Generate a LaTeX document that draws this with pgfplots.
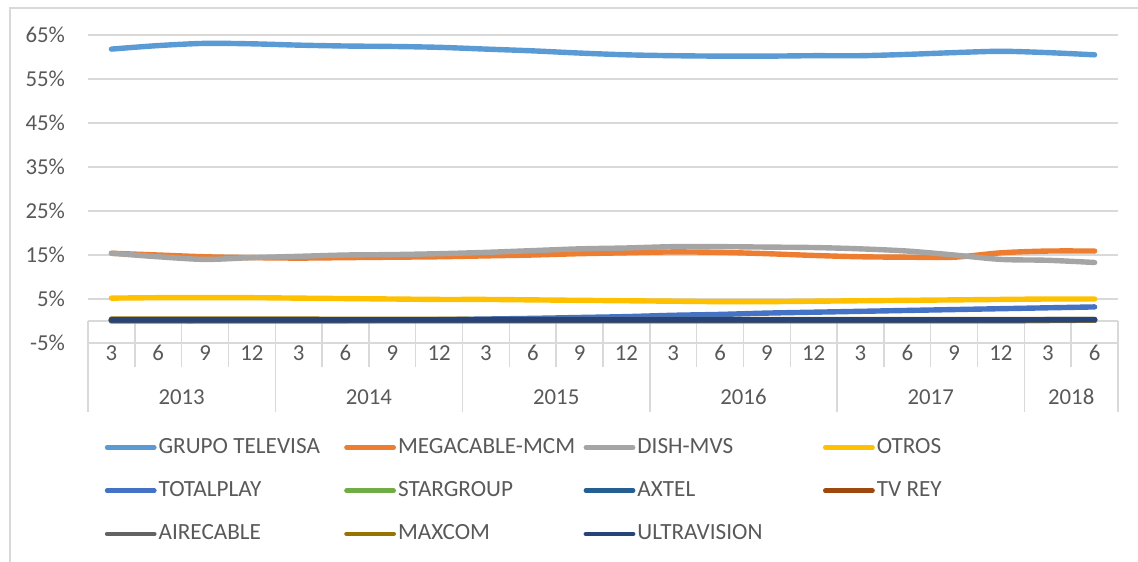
\documentclass[border=0pt]{standalone}
\usepackage{pgfplots}
\usepackage{pgfplotstable}
\pgfplotsset{compat=1.18}
\usepackage{fontspec}
\setmainfont{Carlito}
\definecolor{textc}{HTML}{595959}
\definecolor{gridc}{HTML}{D9D9D9}
\definecolor{borderc}{HTML}{D9D9D9}
\definecolor{cTV}{HTML}{5B9BD5}
\definecolor{cMEGA}{HTML}{ED7D31}
\definecolor{cDISH}{HTML}{A5A5A5}
\definecolor{cOTROS}{HTML}{FFC000}
\definecolor{cTOTAL}{HTML}{4472C4}
\definecolor{cSTAR}{HTML}{70AD47}
\definecolor{cAXTEL}{HTML}{255E91}
\definecolor{cTVREY}{HTML}{9E480E}
\definecolor{cAIRE}{HTML}{636363}
\definecolor{cMAXCOM}{HTML}{997300}
\definecolor{cULTRA}{HTML}{264478}
\tikzset{lab/.style={font=\fontsize{11.4}{13}\selectfont, text=textc},
         sep/.style={color=gridc, line width=0.75pt}}

\pgfplotstableread{
x  tv   mega dish otros total star axtel tvrey aire maxcom ultra
0  61.8 15.4 15.4 5.2 0.05 0.0 0.3 0.2 0.1 0.45 0.25
1  62.6 15.0 14.6 5.3 0.05 0.0 0.3 0.2 0.1 0.45 0.25
2  63.1 14.6 14.0 5.3 0.05 0.0 0.3 0.2 0.1 0.45 0.25
3  63.0 14.4 14.4 5.3 0.10 0.0 0.3 0.2 0.1 0.45 0.25
4  62.7 14.3 14.7 5.2 0.10 0.0 0.3 0.2 0.1 0.42 0.25
5  62.5 14.4 15.0 5.1 0.10 0.0 0.3 0.2 0.1 0.40 0.25
6  62.4 14.5 15.1 5.0 0.20 0.0 0.3 0.2 0.1 0.38 0.25
7  62.2 14.6 15.3 4.9 0.30 0.0 0.3 0.2 0.1 0.36 0.25
8  61.8 14.8 15.6 4.9 0.45 0.0 0.3 0.2 0.1 0.35 0.25
9  61.4 15.0 16.0 4.8 0.60 0.0 0.3 0.2 0.1 0.33 0.25
10 60.9 15.3 16.4 4.7 0.80 0.0 0.3 0.2 0.1 0.30 0.25
11 60.5 15.5 16.6 4.6 1.00 0.0 0.3 0.2 0.1 0.30 0.25
12 60.3 15.7 16.9 4.5 1.30 0.0 0.3 0.2 0.1 0.30 0.25
13 60.2 15.6 16.9 4.4 1.50 0.0 0.3 0.2 0.1 0.30 0.25
14 60.2 15.3 16.8 4.4 1.80 0.0 0.3 0.2 0.1 0.30 0.25
15 60.3 14.9 16.7 4.5 2.00 0.0 0.3 0.2 0.1 0.30 0.25
16 60.3 14.6 16.4 4.6 2.20 0.0 0.3 0.2 0.1 0.30 0.25
17 60.6 14.5 15.9 4.7 2.40 0.0 0.3 0.2 0.1 0.30 0.25
18 61.0 14.5 15.0 4.8 2.60 0.0 0.3 0.2 0.1 0.30 0.25
19 61.3 15.5 14.0 4.9 2.80 0.0 0.3 0.2 0.1 0.30 0.25
20 61.0 15.9 13.8 5.0 3.00 0.1 0.3 0.2 0.1 0.30 0.30
21 60.5 15.9 13.3 5.0 3.20 0.2 0.3 0.2 0.1 0.30 0.35
}\data

\newcommand{\lbox}[1]{\makebox[92.8pt][l]{#1}}

\begin{document}
\begin{tikzpicture}[x=1pt,y=1pt]
\useasboundingbox (0,0) rectangle (569,-280.5);
\draw[color=borderc, line width=0.7pt] (5,-281) -- (5,-4) -- (569,-4);
\begin{axis}[
  at={(44pt,-171.5pt)}, anchor=south west,
  width=515pt, height=154pt, scale only axis,
  xmin=-0.5, xmax=21.5, ymin=-5, ymax=65,
  clip=false,
  axis line style={draw=none},
  tick style={draw=none},
  xtick=\empty,
  ytick={-5,5,15,25,35,45,55,65},
  yticklabel={\pgfmathprintnumber{\tick}\%},
  /pgf/number format/assume math mode=true,
  yticklabel style={font=\fontsize{11.4}{13}\selectfont, text=textc, xshift=-8pt},
  ymajorgrids,
  grid style={color=gridc, line width=0.75pt},
  every axis plot/.append style={line width=2.7pt, line cap=round, smooth, tension=0.5},
  legend columns=4,
  legend image code/.code={\draw[#1, line width=2.3pt] (0pt,0pt) -- (23.6pt,0pt);},
  legend style={at={(axis description cs:0,0)}, anchor=north west,
    xshift=8.2pt, yshift=-47.5pt, draw=none, fill=none, inner sep=0pt,
    font=\fontsize{11.6}{13}\selectfont, text=textc,
    row sep=12.6pt, column sep=0pt,
    nodes={inner sep=0pt},
    /tikz/every odd column/.append style={column sep=1pt}},
]
% category axis
\draw[sep] (axis cs:-0.5,0) -- (axis cs:21.5,0);
\pgfplotsforeachungrouped \k in {0.5,1.5,2.5,4.5,5.5,6.5,8.5,9.5,10.5,12.5,13.5,14.5,16.5,17.5,18.5,20.5}{
  \edef\temp{\noexpand\draw[sep] (axis cs:\k,0) -- ([yshift=-23pt]axis cs:\k,0);}\temp
}
\pgfplotsforeachungrouped \k in {-0.5,3.5,7.5,11.5,15.5,19.5,21.5}{
  \edef\temp{\noexpand\draw[sep] (axis cs:\k,0) -- ([yshift=-45.5pt]axis cs:\k,0);}\temp
}
\foreach \k/\l in {0/3,1/6,2/9,3/12,4/3,5/6,6/9,7/12,8/3,9/6,10/9,11/12,12/3,13/6,14/9,15/12,16/3,17/6,18/9,19/12,20/3,21/6}{
  \edef\temp{\noexpand\node[lab] at ([yshift=-16pt]axis cs:\k,0) {\l};}\temp
}
\foreach \k/\l in {1.5/2013,5.5/2014,9.5/2015,13.5/2016,17.5/2017,20.5/2018}{
  \edef\temp{\noexpand\node[lab] at ([yshift=-38pt]axis cs:\k,0) {\l};}\temp
}
\addplot[color=cTV] table[x=x,y=tv] {\data};
\addlegendentry{\lbox{GRUPO TELEVISA}}
\addplot[color=cMEGA] table[x=x,y=mega] {\data};
\addlegendentry{\lbox{MEGACABLE-MCM}}
\addplot[color=cDISH] table[x=x,y=dish] {\data};
\addlegendentry{\lbox{DISH-MVS}}
\addplot[color=cOTROS] table[x=x,y=otros] {\data};
\addlegendentry{\lbox{OTROS}}
\addplot[color=cTOTAL] table[x=x,y=total] {\data};
\addlegendentry{\lbox{TOTALPLAY}}
\addplot[color=cSTAR] table[x=x,y=star] {\data};
\addlegendentry{\lbox{STARGROUP}}
\addplot[color=cAXTEL] table[x=x,y=axtel] {\data};
\addlegendentry{\lbox{AXTEL}}
\addplot[color=cTVREY] table[x=x,y=tvrey] {\data};
\addlegendentry{\lbox{TV REY}}
\addplot[color=cAIRE] table[x=x,y=aire] {\data};
\addlegendentry{\lbox{AIRECABLE}}
\addplot[color=cMAXCOM] table[x=x,y=maxcom] {\data};
\addlegendentry{\lbox{MAXCOM}}
\addplot[color=cULTRA] table[x=x,y=ultra] {\data};
\addlegendentry{\lbox{ULTRAVISION}}
\end{axis}
\end{tikzpicture}
\end{document}
